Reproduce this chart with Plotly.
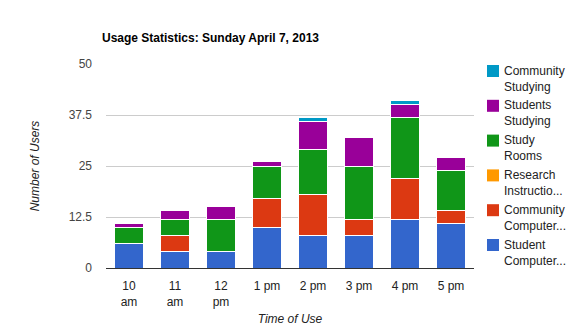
import plotly.graph_objects as go

categories = ["10<br>am", "11<br>am", "12<br>pm", "1 pm", "2 pm", "3 pm", "4 pm", "5 pm"]
student_computers = [6, 4, 4, 10, 8, 8, 12, 11]
community_computers = [0, 4, 0, 7, 10, 4, 10, 3]
research_instruction = [0, 0, 0, 0, 0, 0, 0, 0]
study_rooms = [4, 4, 8, 8, 11, 13, 15, 10]
students_studying = [1, 2, 3, 1, 7, 7, 3, 3]
community_studying = [0, 0, 0, 0, 1, 0, 1, 0]

series = [
    ("Student<br>Computer...", student_computers, "#3366cc"),
    ("Community<br>Computer...", community_computers, "#dc3912"),
    ("Research<br>Instructio...", research_instruction, "#ff9900"),
    ("Study<br>Rooms", study_rooms, "#109618"),
    ("Students<br>Studying", students_studying, "#990099"),
    ("Community<br>Studying", community_studying, "#0099c6"),
]

FONT = "Arial, Liberation Sans, sans-serif"
W, H = 580, 332
L, R, T, B = 106, 106, 64, 64
PW, PH = W - L - R, H - T - B


def px_x(px):
    return (px - L) / PW


def px_y(py):
    return (H - B - py) / PH


fig = go.Figure()
for name, vals, color in series:
    fig.add_trace(go.Bar(
        x=categories, y=vals, name=name, showlegend=False,
        marker=dict(color=color, line=dict(color="white", width=1)),
    ))

# manual legend (top to bottom = reversed series order)
shapes, annotations = [], []
for i, (name, vals, color) in enumerate(reversed(series)):
    top = 65 + 34.8 * i
    shapes.append(dict(type="rect", xref="paper", yref="paper",
                       x0=px_x(487), x1=px_x(499), y0=px_y(top + 12), y1=px_y(top),
                       fillcolor=color, line=dict(width=0)))
    annotations.append(dict(xref="paper", yref="paper", x=px_x(502), y=px_y(top + 13.5),
                            xanchor="left", yanchor="middle", align="left",
                            text=name, showarrow=False,
                            font=dict(size=12, color="#222", family=FONT)))

fig.update_layout(
    barmode="stack",
    bargap=0.39,
    width=W, height=H,
    margin=dict(l=L, r=R, t=T, b=B, autoexpand=False),
    paper_bgcolor="white", plot_bgcolor="white",
    font=dict(family=FONT, size=12, color="#222"),
    title=dict(text="<b>Usage Statistics: Sunday April 7, 2013</b>",
               x=102/580, xanchor="left", y=1 - 38/332, yanchor="middle",
               font=dict(size=12, color="#000")),
    xaxis=dict(
        title=dict(text="<i>Time of Use</i>", font=dict(size=12, color="#222"), standoff=6),
        showgrid=False, showline=True, linecolor="#333", linewidth=1,
        tickfont=dict(size=12, color="#222"), ticks="", ticklabelstandoff=7,
    ),
    yaxis=dict(
        title=dict(text="<i>Number of Users</i>", font=dict(size=12, color="#222"), standoff=26),
        range=[0, 50], tickvals=[0, 12.5, 25, 37.5, 50],
        ticktext=["0", "12.5", "25", "37.5", "50"],
        gridcolor="#cccccc", gridwidth=1, zeroline=False,
        tickfont=dict(size=12, color="#444"), ticks="", ticklabelstandoff=13,
    ),
    shapes=shapes,
    annotations=annotations,
    showlegend=False,
)

fig.write_html("out.html")
